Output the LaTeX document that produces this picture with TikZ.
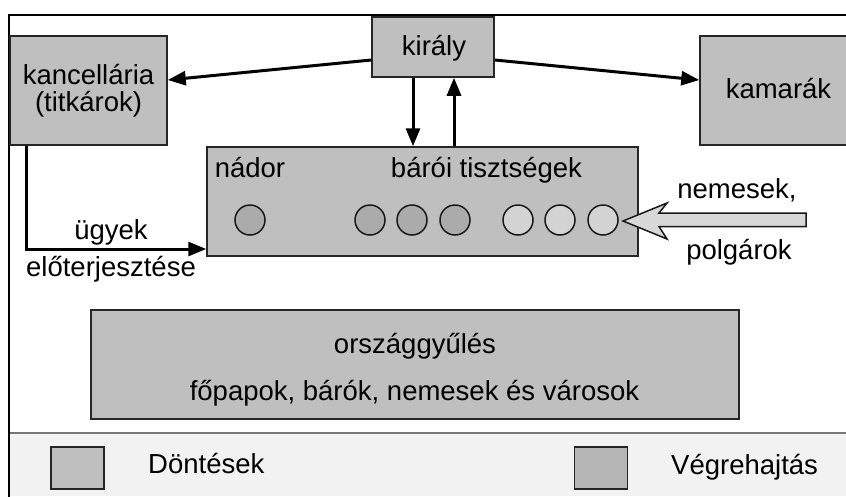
\documentclass[tikz,border=0pt]{standalone}
\usepackage{fontspec}
\setmainfont{Liberation Sans}
\usetikzlibrary{arrows.meta,calc}
\definecolor{boxgray}{HTML}{BFBFBF}
\definecolor{exegray}{HTML}{B6B6B6}
\definecolor{darkcirc}{HTML}{ABABAB}
\definecolor{lightcirc}{HTML}{D3D3D3}
\definecolor{hollowfill}{HTML}{D8D8D8}
\definecolor{legendbg}{HTML}{F2F2F2}
\definecolor{sepline}{HTML}{777777}
\definecolor{edgecol}{HTML}{262626}
\begin{document}
\begin{tikzpicture}[x=1pt,y=-1pt,
  font=\fontsize{27.5}{28}\selectfont,
  box/.style={draw=edgecol, line width=1.5pt, fill=boxgray, rectangle, inner sep=0pt},
  circdark/.style={draw=black!90, line width=1.5pt, fill=darkcirc, circle, inner sep=0pt, minimum size=30pt},
  circlight/.style={draw=black!90, line width=1.5pt, fill=lightcirc, circle, inner sep=0pt, minimum size=30pt},
  txt/.style={inner sep=0pt, anchor=base, text=black},
  txtw/.style={inner sep=0pt, anchor=base west, text=black},
  arr/.style={line width=3pt, -{Triangle[length=18pt,width=14pt]}}]
\useasboundingbox (0,0) rectangle (846,496);
\clip (0,0) rectangle (846,496);
% legend background and frame
\fill[legendbg] (10,434) rectangle (846,496);
\draw[sepline, line width=2pt] (9,433) -- (846,433);
\draw[line width=2pt] (9,497) -- (9,15) -- (847,15);
% boxes
\node[box, minimum width=157pt, minimum height=109pt] (kanc) at (88.5,90.5) {};
\node[box, minimum width=122pt, minimum height=60pt] (kiraly) at (433,47) {};
\node[box, minimum width=150pt, minimum height=109pt] (kamarak) at (775,90.5) {};
\node[box, minimum width=431pt, minimum height=109pt] (central) at (422.5,201.5) {};
\node[box, minimum width=648pt, minimum height=109pt] (orszag) at (415,364.5) {};
\node[box, minimum width=53pt, minimum height=42pt] (legdont) at (77.5,468) {};
\node[box, fill=exegray, minimum width=53pt, minimum height=42pt] (legvegr) at (601,468) {};
% circles
\node[circdark] (c1) at (250,220) {};
\node[circdark] (c2) at (370,220) {};
\node[circdark] (c3) at (412,220) {};
\node[circdark] (c4) at (455,220) {};
\node[circlight] (c5) at (518,220) {};
\node[circlight] (c6) at (560,220) {};
\node[circlight] (c7) at (603,220) {};
% texts
\node[txt] (tkanc1) at (88.5,84) {kancellária};
\node[txt] (tkanc2) at (88.5,111) {(titkárok)};
\node[txt] (tkiraly) at (434,55) {király};
\node[txt] (tkamarak) at (778.5,98) {kamarák};
\node[txt] (tnador) at (250,177) {nádor};
\node[txt] (tbaroi) at (486.5,177) {bárói tisztségek};
\node[txt] (torszag1) at (415,353) {országgyűlés};
\node[txt] (torszag2) at (414.5,400) {főpapok, bárók, nemesek és városok};
\node[txt] (tugyek) at (111,239) {ügyek};
\node[txt] (telo) at (111,276) {előterjesztése};
\node[txt] (tnemesek) at (737,198) {nemesek,};
\node[txt] (tpolgarok) at (739,259) {polgárok};
\node[txtw] (tdont) at (148,473) {Döntések};
\node[txtw] (tvegr) at (671,474) {Végrehajtás};
% connectors
\coordinate (kdown) at ($(kiraly.south)+(-20,0)$);
\coordinate (kup) at ($(kiraly.south)+(21,0)$);
\coordinate (kancout) at ($(kanc.south west)+(17,0)$);
\coordinate (centin) at ($(central.west)+(0,47.5)$);
\draw[arr] ($(kiraly.west)+(0,13)$) -- ($(kanc.east)+(0,-10.5)$);
\draw[arr] ($(kiraly.east)+(0,13)$) -- ($(kamarak.west)+(0,-10.5)$);
\draw[arr] (kdown) -- (kdown |- central.north);
\draw[arr] (kup |- central.north) -- (kup);
\draw[arr] (kancout) |- (centin);
% hollow arrow
\coordinate (htip) at (623,221);
\draw[draw=black!90, line width=1.5pt, fill=hollowfill, line join=miter]
  (htip) -- (667,203) -- (659,213) -- (806,213) -- (806,226.5) -- (659,226.5) -- (667,239) -- cycle;
\end{tikzpicture}
\end{document}
